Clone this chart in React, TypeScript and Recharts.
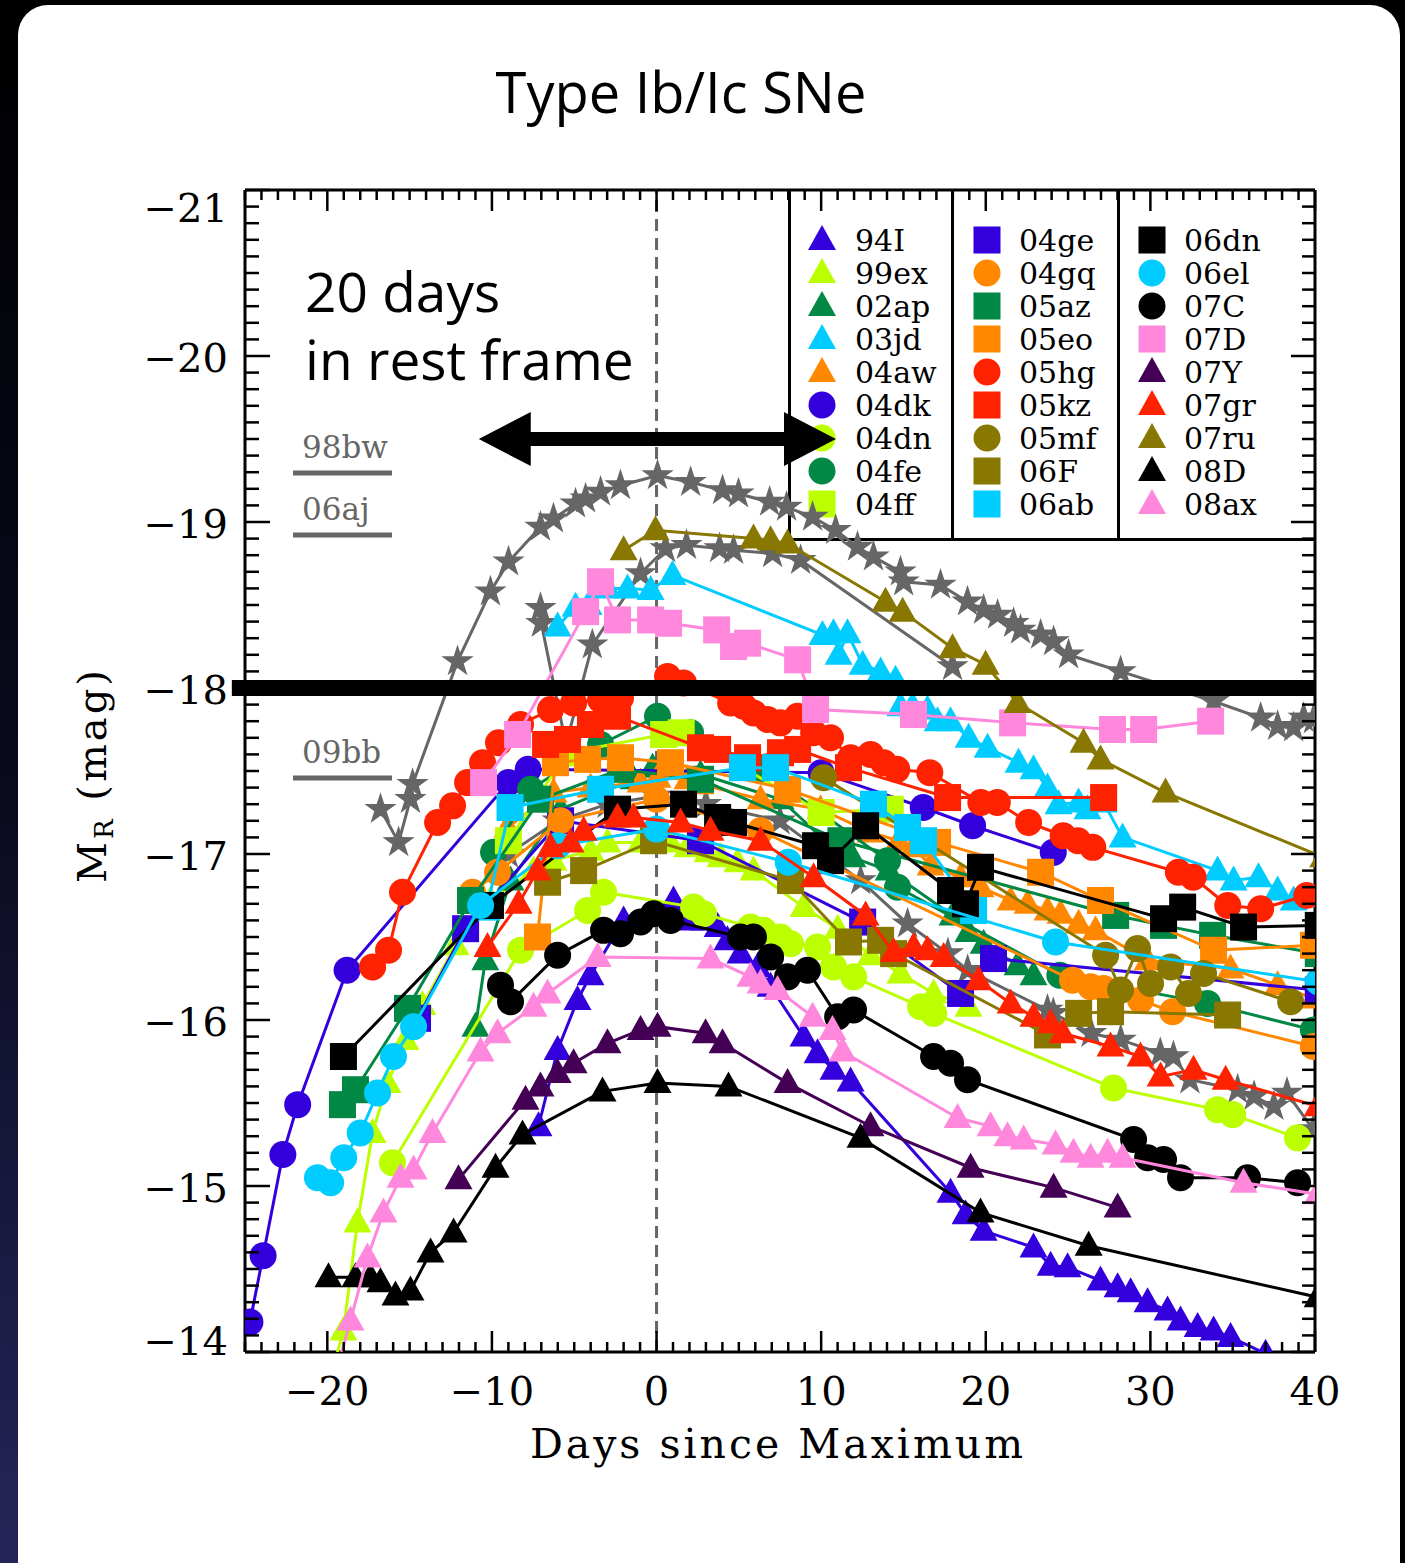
import React from "react";
import { ScatterChart, Scatter, XAxis, YAxis, ReferenceLine } from "recharts";

type Pt = [number, number]; // [days since max, M_R]

// gray comparison SNe (stars)
const sn98bw: Pt[] = [
  [-16.77, -17.27], [-15.67, -17.07], [-14.95, -17.33], [-14.82, -17.42], [-12.09, -18.16],
  [-10.09, -18.58], [-8.99, -18.76], [-7.05, -18.97], [-6.26, -19.02], [-4.92, -19.11],
  [-4.31, -19.14], [-3.4, -19.18], [-2.19, -19.22], [0.06, -19.28], [2.07, -19.24],
  [4.01, -19.19], [4.98, -19.17], [6.87, -19.12], [7.9, -19.09], [9.48, -19.03],
  [10.88, -18.95], [12.21, -18.85], [13.18, -18.79], [14.82, -18.7], [15.01, -18.64],
  [17.25, -18.62], [18.89, -18.52], [19.87, -18.47], [20.72, -18.44], [21.69, -18.39],
  [22.11, -18.35], [23.33, -18.32], [24.12, -18.28], [25.03, -18.2], [28.19, -18.1],
  [33.84, -17.92], [36.7, -17.82], [37.73, -17.77], [38.7, -17.76], [39.31, -17.82], [39.91, -17.81],
];
const sn06aj: Pt[] = [
  [-7.05, -18.48], [-7.0, -18.39], [-5.5, -17.66], [-3.9, -18.26], [-0.97, -18.69],
  [0.55, -18.84], [1.82, -18.86], [3.83, -18.84], [4.68, -18.83], [7.05, -18.81],
  [8.75, -18.77], [17.98, -18.13],
];
const sn09bb: Pt[] = [
  [-9.0, -17.0], [-6.0, -17.2], [-3.0, -17.3], [0.0, -17.35], [3.0, -17.3], [7.5, -17.2],
  [12.4, -16.84], [15.25, -16.58], [17.7, -16.4], [18.9, -16.3], [23.75, -16.06],
  [24.1, -16.04], [26.4, -15.92], [28.2, -15.88], [30.6, -15.8], [31.4, -15.78],
  [32.4, -15.64], [35.3, -15.58], [36.3, -15.54], [37.5, -15.48], [38.3, -15.56], [39.9, -15.34],
];

const sn94I: Pt[] = [
  [-7.17, -15.36], [-6.01, -15.82], [-4.8, -16.12], [-4.01, -16.27], [-2.0, -16.6],
  [1.03, -16.72], [2.07, -16.6], [2.86, -16.6], [3.71, -16.56], [4.31, -16.48],
  [5.1, -16.4], [6.14, -16.32], [6.93, -16.2], [8.93, -15.9], [9.78, -15.8],
  [10.75, -15.7], [11.79, -15.63], [17.86, -14.96], [18.77, -14.83], [19.87, -14.73],
  [22.9, -14.63], [23.94, -14.52], [24.97, -14.51], [26.97, -14.43], [28.01, -14.39],
  [28.8, -14.36], [29.83, -14.3], [31.04, -14.25], [31.83, -14.19], [32.87, -14.15],
  [33.84, -14.13], [34.87, -14.09], [37.0, -13.99],
];
const sn99ex: Pt[] = [
  [-19.8, -13.85], [-19.02, -14.13], [-18.17, -14.78], [-17.25, -15.32], [-16.34, -15.62],
  [-15.25, -15.88], [-14.22, -16.09], [-12.2, -16.45], [-10.09, -16.72], [-7.47, -16.9],
  [-6.26, -16.96], [-4.01, -17.02], [-2.98, -17.07], [-0.97, -17.07], [0.85, -17.07],
  [1.88, -17.04], [3.1, -17.01], [3.89, -16.98], [4.92, -16.95], [5.89, -16.9],
  [8.93, -16.68], [11.0, -16.55], [13.0, -16.39], [14.82, -16.28], [16.83, -16.16], [18.95, -16.08],
];
const sn02ap: Pt[] = [
  [-11.0, -15.96], [-10.4, -16.36], [-8.87, -16.84], [-5.83, -17.27], [-1.4, -17.45],
  [-0.24, -17.52], [2.67, -17.48], [7.53, -17.33], [11.0, -17.01], [11.9, -16.98],
  [14.1, -16.9], [17.98, -16.63], [18.95, -16.53], [19.87, -16.46], [21.93, -16.33], [22.9, -16.27],
];
const sn03jd: Pt[] = [
  [-6.01, -18.37], [-4.92, -18.49], [-4.13, -18.5], [-2.98, -18.6], [-1.76, -18.6],
  [-0.36, -18.59], [0.97, -18.68], [10.08, -18.32], [10.75, -18.33], [11.06, -18.2],
  [11.6, -18.33], [12.52, -18.14], [13.61, -18.1], [14.52, -18.05], [14.82, -17.89],
  [15.55, -17.89], [16.46, -17.87], [17.07, -17.8], [17.86, -17.8], [18.96, -17.7],
  [20.11, -17.64], [21.99, -17.55], [22.9, -17.51], [23.75, -17.4], [24.42, -17.3],
  [25.64, -17.31], [26.18, -17.27], [27.16, -17.31], [28.31, -17.1], [34.08, -16.9],
  [35.05, -16.84], [36.57, -16.86], [37.73, -16.78], [38.7, -16.72], [39.55, -16.74],
];
const sn04aw: Pt[] = [
  [-9.05, -17.16], [-6.26, -17.37], [-4.01, -17.4], [-0.97, -17.43], [0.06, -17.46],
  [1.88, -17.45], [2.67, -17.42], [6.32, -17.33], [9.96, -17.27], [13.0, -17.13],
  [14.7, -17.08], [15.61, -17.04], [16.65, -16.93], [18.47, -16.86], [19.68, -16.8],
  [21.51, -16.72], [22.54, -16.7], [23.75, -16.66], [24.54, -16.64], [25.64, -16.58],
  [26.67, -16.54], [29.83, -16.36], [34.87, -16.31], [37.73, -16.21], [39.91, -16.13],
];
const sn04dk: Pt[] = [
  [-24.7, -14.18], [-23.9, -14.58], [-22.7, -15.19], [-21.8, -15.49], [-18.8, -16.3],
  [-9.0, -17.43], [-7.8, -17.51], [10.0, -17.49], [16.2, -17.28], [19.2, -17.17], [24.1, -17.01],
];
const sn04dn: Pt[] = [
  [-16.04, -15.14], [-8.26, -16.42], [-4.19, -16.66], [-3.22, -16.77], [2.25, -16.68],
  [2.86, -16.64], [5.71, -16.56], [6.5, -16.54], [7.53, -16.5], [8.14, -16.46],
  [9.78, -16.44], [10.75, -16.32], [11.97, -16.26], [16.04, -16.08], [16.83, -16.04],
  [27.76, -15.59], [34.08, -15.46], [35.0, -15.43], [38.94, -15.29],
];
const sn04fe: Pt[] = [
  [-9.9, -17.01], [-7.65, -17.39], [-3.4, -17.66], [0.06, -17.83], [2.07, -17.73],
  [6.32, -17.51], [14.03, -16.96], [14.64, -16.8], [24.5, -16.27], [33.47, -16.1], [39.9, -15.94],
];
const sn04ff: Pt[] = [
  [-9.0, -17.08], [-5.41, -17.61], [0.43, -17.72], [1.5, -17.73], [10.0, -17.25], [14.2, -17.27],
];
const sn04ge: Pt[] = [
  [-14.52, -16.01], [-11.6, -16.55], [-5.83, -17.2], [2.67, -17.08], [12.52, -16.59],
  [18.47, -16.16], [20.47, -16.37], [40.2, -16.18],
];
const sn04gq: Pt[] = [
  [-11.18, -16.77], [-9.66, -16.89], [-5.83, -17.2], [0.0, -17.33], [6.32, -17.14],
  [25.27, -16.24], [26.37, -16.2], [27.16, -16.19], [29.4, -16.12], [31.35, -16.05], [39.9, -15.84],
];
const sn05az: Pt[] = [
  [-19.08, -15.49], [-18.29, -15.58], [-15.13, -16.07], [-11.3, -16.72], [-7.05, -17.33],
  [-2.19, -17.51], [2.67, -17.45], [11.2, -17.08], [27.89, -16.63], [30.8, -16.57],
  [33.78, -16.51], [40.2, -16.4],
];
const sn05eo: Pt[] = [
  [-7.23, -16.5], [-6.14, -17.55], [-4.19, -17.57], [-2.19, -17.58], [0.85, -17.55],
  [7.96, -17.39], [17.07, -17.07], [23.33, -16.89], [26.97, -16.72], [33.84, -16.42], [39.91, -16.45],
];
const sn05hg: Pt[] = [
  [-17.25, -16.32], [-16.28, -16.42], [-15.43, -16.77], [-13.3, -17.19], [-12.39, -17.29],
  [-11.48, -17.43], [-10.57, -17.55], [-9.6, -17.67], [-8.26, -17.78], [-6.44, -17.87],
  [-5.04, -17.91], [-3.4, -17.93], [-2.19, -17.94], [0.67, -18.07], [1.64, -18.03],
  [4.5, -17.91], [5.29, -17.89], [5.89, -17.85], [6.74, -17.81], [7.53, -17.79],
  [8.57, -17.83], [9.54, -17.73], [10.57, -17.7], [11.79, -17.58], [13.0, -17.6],
  [13.8, -17.55], [14.6, -17.51], [16.6, -17.49], [19.7, -17.31], [20.7, -17.31],
  [22.6, -17.19], [24.7, -17.11], [25.6, -17.08], [26.5, -17.04], [31.7, -16.89],
  [32.6, -16.86], [34.7, -16.69], [36.7, -16.67], [39.5, -16.75],
];
const sn05kz: Pt[] = [
  [-6.74, -17.66], [-5.41, -17.69], [-4.01, -17.78], [-2.37, -17.83], [2.67, -17.64],
  [3.71, -17.63], [5.53, -17.58], [7.53, -17.61], [8.57, -17.63], [11.66, -17.52],
  [17.68, -17.34], [27.16, -17.34],
];
const sn05mf: Pt[] = [
  [10.15, -17.46], [27.28, -16.39], [28.19, -16.18], [29.22, -16.43], [30.01, -16.22],
  [31.23, -16.32], [32.32, -16.16], [33.23, -16.28], [38.52, -16.11],
];
const sn06F: Pt[] = [
  [-6.62, -16.83], [-4.43, -16.9], [-0.18, -17.08], [8.14, -16.84], [11.66, -16.47],
  [13.61, -16.48], [14.4, -16.4], [23.75, -15.91], [25.64, -16.04], [27.58, -16.05], [34.69, -16.03],
];
const sn06ab: Pt[] = [
  [-10.3, -16.68], [-8.9, -17.28], [-3.4, -17.39], [5.22, -17.52], [7.23, -17.52],
  [13.18, -17.3], [15.25, -17.16], [16.22, -17.08], [19.26, -16.66],
];
const sn06dn: Pt[] = [
  [-19.02, -15.78], [-10.09, -16.69], [-2.37, -17.27], [1.64, -17.3], [3.71, -17.22],
  [4.68, -17.19], [9.66, -17.05], [10.57, -16.96], [12.7, -17.17], [17.86, -16.78],
  [18.77, -16.7], [19.68, -16.92], [30.8, -16.61], [31.96, -16.68], [35.66, -16.56], [40.2, -16.57],
];
const sn06el: Pt[] = [
  [-20.6, -15.05], [-19.8, -15.02], [-19.0, -15.17], [-18.0, -15.32], [-16.95, -15.56],
  [-15.98, -15.78], [-14.76, -15.96], [-10.69, -16.69], [-6.0, -17.05], [0.0, -17.15],
  [8.0, -16.95], [24.24, -16.47], [40.2, -16.23],
];
const sn07C: Pt[] = [
  [-9.48, -16.21], [-8.87, -16.11], [-6.01, -16.39], [-3.22, -16.54], [-2.19, -16.52],
  [-0.97, -16.59], [-0.18, -16.64], [0.85, -16.6], [5.1, -16.5], [5.89, -16.5],
  [6.93, -16.38], [7.96, -16.26], [9.17, -16.3], [11.0, -16.02], [11.97, -16.06],
  [16.83, -15.78], [17.86, -15.74], [18.89, -15.64], [28.98, -15.28], [29.83, -15.17],
  [30.8, -15.16], [31.83, -15.05], [35.9, -15.05], [38.94, -15.02],
];
const sn07D: Pt[] = [
  [-10.51, -17.43], [-8.44, -17.72], [-4.31, -18.46], [-3.4, -18.64], [-2.37, -18.41],
  [-0.36, -18.41], [0.73, -18.39], [3.65, -18.35], [4.68, -18.25], [5.53, -18.27],
  [8.57, -18.17], [9.66, -17.87], [15.61, -17.84], [21.63, -17.79], [27.7, -17.75],
  [29.59, -17.75], [33.66, -17.8],
];
const sn07Y: Pt[] = [
  [-12.03, -15.04], [-7.96, -15.52], [-7.05, -15.6], [-6.01, -15.68], [-5.04, -15.74],
  [-2.98, -15.86], [-0.97, -15.94], [0.06, -15.96], [2.98, -15.92], [4.01, -15.86],
  [7.96, -15.62], [13.0, -15.36], [19.08, -15.11], [24.12, -14.99], [28.01, -14.87],
];
const sn07gr: Pt[] = [
  [-10.27, -16.44], [-8.38, -16.7], [-7.23, -16.9], [-6.44, -17.04], [-5.22, -17.07],
  [-4.43, -17.14], [-2.37, -17.22], [-1.4, -17.22], [1.46, -17.19], [3.28, -17.14],
  [6.32, -17.08], [9.54, -16.86], [12.7, -16.63], [14.4, -16.41], [15.61, -16.44],
  [16.46, -16.42], [17.44, -16.38], [19.56, -16.24], [21.51, -16.1], [22.9, -16.02],
  [23.94, -15.98], [24.67, -15.92], [27.58, -15.84], [29.4, -15.78], [30.62, -15.66],
  [32.62, -15.7], [34.57, -15.64], [40.16, -15.48],
];
const sn07ru: Pt[] = [
  [-2.0, -18.83], [-0.06, -18.95], [5.89, -18.9], [6.93, -18.89], [7.96, -18.87],
  [13.91, -18.52], [14.95, -18.46], [17.98, -18.24], [19.99, -18.14], [21.93, -17.91],
  [25.94, -17.67], [26.97, -17.57], [30.92, -17.37], [40.5, -16.98],
];
const sn08D: Pt[] = [
  [-19.93, -14.45], [-18.29, -14.45], [-17.38, -14.45], [-16.77, -14.42], [-15.86, -14.34],
  [-14.95, -14.37], [-13.73, -14.6], [-12.33, -14.72], [-9.78, -15.11], [-8.14, -15.31],
  [-3.28, -15.57], [0.06, -15.62], [4.37, -15.6], [12.39, -15.29], [19.68, -14.84],
  [26.25, -14.64], [40.16, -14.33],
];
const sn08ax: Pt[] = [
  [-19.4, -13.9], [-18.59, -14.19], [-17.56, -14.57], [-16.59, -14.84], [-15.55, -15.05],
  [-14.76, -15.1], [-13.61, -15.32], [-10.69, -15.81], [-9.66, -15.92], [-7.47, -16.08],
  [-6.62, -16.16], [-3.58, -16.38], [3.28, -16.37], [5.71, -16.26], [6.32, -16.22],
  [7.35, -16.18], [9.48, -16.02], [10.69, -15.94], [11.3, -15.81], [18.29, -15.41],
  [20.29, -15.36], [21.32, -15.3], [22.3, -15.28], [24.24, -15.25], [25.33, -15.2],
  [26.37, -15.17], [27.4, -15.2], [28.31, -15.17], [35.66, -15.02], [40.16, -14.95],
];

type Shape = "triangle" | "circle" | "square" | "star";
type Series = { name: string; color: string; shape: Shape; data: Pt[] };

const SERIES: Series[] = [
  { name: "98bw", color: "#666666", shape: "star", data: sn98bw },
  { name: "06aj", color: "#666666", shape: "star", data: sn06aj },
  { name: "09bb", color: "#666666", shape: "star", data: sn09bb },
  { name: "94I", color: "#3300DD", shape: "triangle", data: sn94I },
  { name: "99ex", color: "#BBFF00", shape: "triangle", data: sn99ex },
  { name: "02ap", color: "#008844", shape: "triangle", data: sn02ap },
  { name: "03jd", color: "#00CCFF", shape: "triangle", data: sn03jd },
  { name: "04aw", color: "#FF8800", shape: "triangle", data: sn04aw },
  { name: "04dk", color: "#3300DD", shape: "circle", data: sn04dk },
  { name: "04dn", color: "#BBFF00", shape: "circle", data: sn04dn },
  { name: "04fe", color: "#008844", shape: "circle", data: sn04fe },
  { name: "04ff", color: "#BBFF00", shape: "square", data: sn04ff },
  { name: "04ge", color: "#3300DD", shape: "square", data: sn04ge },
  { name: "04gq", color: "#FF8800", shape: "circle", data: sn04gq },
  { name: "05az", color: "#008844", shape: "square", data: sn05az },
  { name: "05eo", color: "#FF8800", shape: "square", data: sn05eo },
  { name: "05hg", color: "#FF2200", shape: "circle", data: sn05hg },
  { name: "05kz", color: "#FF2200", shape: "square", data: sn05kz },
  { name: "05mf", color: "#887700", shape: "circle", data: sn05mf },
  { name: "06F", color: "#887700", shape: "square", data: sn06F },
  { name: "06ab", color: "#00CCFF", shape: "square", data: sn06ab },
  { name: "06dn", color: "#000000", shape: "square", data: sn06dn },
  { name: "06el", color: "#00CCFF", shape: "circle", data: sn06el },
  { name: "07C", color: "#000000", shape: "circle", data: sn07C },
  { name: "07D", color: "#FF88DD", shape: "square", data: sn07D },
  { name: "07Y", color: "#440055", shape: "triangle", data: sn07Y },
  { name: "07gr", color: "#FF2200", shape: "triangle", data: sn07gr },
  { name: "07ru", color: "#887700", shape: "triangle", data: sn07ru },
  { name: "08D", color: "#000000", shape: "triangle", data: sn08D },
  { name: "08ax", color: "#FF88DD", shape: "triangle", data: sn08ax },
];

const LEGEND_COLUMNS = [
  ["94I", "99ex", "02ap", "03jd", "04aw", "04dk", "04dn", "04fe", "04ff"],
  ["04ge", "04gq", "05az", "05eo", "05hg", "05kz", "05mf", "06F", "06ab"],
  ["06dn", "06el", "07C", "07D", "07Y", "07gr", "07ru", "08D", "08ax"],
];
const GRAY_KEYS = ["98bw", "06aj", "09bb"];

const DAY_TICKS = Array.from({ length: 66 }, (_, i) => i - 25);
const MAG_TICKS = Array.from({ length: 71 }, (_, i) => -21 + i / 10);
const THRESHOLD_MAG = -18;
const ARROW_DAYS: [number, number] = [-10.8, 10.9];
const ARROW_MAG = -19.5;

const SERIF = "DejaVu Serif";
const fmt = (v: number) => (v < 0 ? "\u2212" + Math.abs(v) : String(v));
const isMajorMag = (v: number) => Math.abs(v - Math.round(v)) < 1e-6;

function Marker({ cx, cy, shape, color }: { cx: number; cy: number; shape: Shape; color: string }) {
  if (shape === "triangle")
    return <polygon points={`${cx},${cy - 15} ${cx + 14},${cy + 10} ${cx - 14},${cy + 10}`} fill={color} />;
  if (shape === "circle") return <circle cx={cx} cy={cy} r={13.5} fill={color} />;
  if (shape === "square") return <rect x={cx - 13.5} y={cy - 13.5} width={27} height={27} fill={color} />;
  const pts: string[] = [];
  for (let i = 0; i < 10; i++) {
    const r = i % 2 === 0 ? 17 : 6.5;
    const a = -Math.PI / 2 + (i * Math.PI) / 5;
    pts.push(`${cx + r * Math.cos(a)},${cy + r * Math.sin(a)}`);
  }
  return <polygon points={pts.join(" ")} fill={color} />;
}

function BottomTick(p: any) {
  const v = p.payload.value;
  const major = v % 10 === 0;
  return (
    <g>
      <line x1={p.x} x2={p.x} y1={p.y} y2={p.y - (major ? 21 : 10)} stroke="#000" strokeWidth={2.5} />
      {major && (
        <text x={p.x} y={p.y + 53} textAnchor="middle" fontFamily={SERIF} fontSize={40} fill="#000">
          {fmt(v)}
        </text>
      )}
    </g>
  );
}

function TopTick(p: any) {
  const major = p.payload.value % 10 === 0;
  return <line x1={p.x} x2={p.x} y1={p.y} y2={p.y + (major ? 21 : 10)} stroke="#000" strokeWidth={2.5} />;
}

function LeftTick(p: any) {
  const v = p.payload.value;
  const major = isMajorMag(v);
  const r = Math.round(v);
  const dy = r === -21 ? 32 : r === -14 ? 3 : 16;
  return (
    <g>
      <line x1={p.x} x2={p.x + (major ? 25 : 14)} y1={p.y} y2={p.y} stroke="#000" strokeWidth={2.5} />
      {major && (
        <text x={p.x - 17} y={p.y + dy} textAnchor="end" fontFamily={SERIF} fontSize={40} fill="#000">
          {fmt(r)}
        </text>
      )}
    </g>
  );
}

function RightTick(p: any) {
  const major = isMajorMag(p.payload.value);
  return <line x1={p.x} x2={p.x - (major ? 24 : 13)} y1={p.y} y2={p.y} stroke="#000" strokeWidth={2.5} />;
}

function ArrowShape(p: any) {
  const { x1, x2, y1 } = p;
  const L = 52;
  const H = 27;
  return (
    <g>
      <line x1={x1 + L - 2} x2={x2 - L + 2} y1={y1} y2={y1} stroke="#000" strokeWidth={14} />
      <polygon points={`${x1},${y1} ${x1 + L},${y1 - H} ${x1 + L},${y1 + H}`} fill="#000" />
      <polygon points={`${x2},${y1} ${x2 - L},${y1 - H} ${x2 - L},${y1 + H}`} fill="#000" />
    </g>
  );
}

const byName: Record<string, Series> = Object.fromEntries(SERIES.map((s) => [s.name, s]));

function Annotations() {
  const colMarkerX = [822, 987, 1152];
  const colTextX = [855, 1019, 1184];
  const grayY = [458, 520, 763];
  return (
    <svg width={1405} height={1563} style={{ position: "absolute", left: 0, top: 0 }}>
      <text x={681} y={113} textAnchor="middle" fontFamily="Open Sans" fontSize={56} fill="#000">
        Type Ib/Ic SNe
      </text>
      <text fontFamily="Open Sans" fontSize={55} fill="#000">
        <tspan x={305} y={312}>20 days</tspan>
        <tspan x={305} y={380}>in rest frame</tspan>
      </text>
      {GRAY_KEYS.map((k, i) => (
        <g key={k}>
          <text x={302} y={grayY[i]} fontFamily={SERIF} fontSize={31} fill="#666">{k}</text>
          <rect x={293} y={grayY[i] + 12.5} width={99} height={5} fill="#666" />
        </g>
      ))}
      <text x={778} y={1458} textAnchor="middle" fontFamily={SERIF} fontSize={41} letterSpacing={3} fill="#000">
        Days since Maximum
      </text>
      <text transform="translate(106,775) rotate(-90)" textAnchor="middle" fontFamily={SERIF} fontSize={40} letterSpacing={3} fill="#000">
        M<tspan fontSize={26} dy={7}>R</tspan>
        <tspan dy={-7}> (mag)</tspan>
      </text>
      {/* legend box */}
      <line x1={789.5} x2={789.5} y1={190} y2={541} stroke="#000" strokeWidth={3} />
      <line x1={788} x2={1315} y1={539.5} y2={539.5} stroke="#000" strokeWidth={3} />
      <line x1={952.5} x2={952.5} y1={190} y2={541} stroke="#000" strokeWidth={3} />
      <line x1={1118.5} x2={1118.5} y1={190} y2={541} stroke="#000" strokeWidth={3} />
      {LEGEND_COLUMNS.map((col, ci) =>
        col.map((name, ri) => {
          const s = byName[name];
          const cy = 240 + ri * 33;
          return (
            <g key={name}>
              <Marker cx={colMarkerX[ci]} cy={cy} shape={s.shape} color={s.color} />
              <text x={colTextX[ci]} y={cy + 11} fontFamily={SERIF} fontSize={30} fill="#000">
                {name}
              </text>
            </g>
          );
        })
      )}
    </svg>
  );
}

export default function App() {
  return (
    <div
      style={{
        position: "absolute",
        left: 0,
        top: 0,
        width: 1405,
        height: 1563,
        overflow: "hidden",
        background: "radial-gradient(ellipse at 0% 100%, #25255a 0%, #0a0a1e 35%, #000 70%)",
      }}
    >
      <div
        style={{
          position: "absolute",
          left: 18,
          top: 5,
          width: 1382,
          height: 1620,
          background: "#fff",
          borderRadius: 30,
        }}
      />
      <Annotations />
      <div style={{ position: "absolute", left: 0, top: 0 }}>
        <ScatterChart width={1405} height={1563} margin={{ top: 189, right: 89, bottom: 61, left: 0 }}>
          <XAxis
            xAxisId="bottom"
            type="number"
            dataKey="x"
            domain={[-25, 40]}
            allowDataOverflow
            ticks={DAY_TICKS}
            interval={0}
            height={150}
            tickSize={0}
            tickMargin={0}
            tick={BottomTick}
            axisLine={{ stroke: "#000", strokeWidth: 3 }}
          />
          <XAxis
            xAxisId="top"
            orientation="top"
            type="number"
            dataKey="x"
            domain={[-25, 40]}
            allowDataOverflow
            ticks={DAY_TICKS}
            interval={0}
            height={1}
            tickSize={0}
            tickMargin={0}
            tick={TopTick}
            axisLine={{ stroke: "#000", strokeWidth: 3 }}
          />
          <YAxis
            yAxisId="left"
            type="number"
            dataKey="y"
            domain={[-21, -14]}
            reversed
            allowDataOverflow
            ticks={MAG_TICKS}
            interval={0}
            width={245}
            tickSize={0}
            tickMargin={0}
            tick={LeftTick}
            axisLine={{ stroke: "#000", strokeWidth: 3 }}
          />
          <YAxis
            yAxisId="right"
            orientation="right"
            type="number"
            dataKey="y"
            domain={[-21, -14]}
            reversed
            allowDataOverflow
            ticks={MAG_TICKS}
            interval={0}
            width={1}
            tickSize={0}
            tickMargin={0}
            tick={RightTick}
            axisLine={{ stroke: "#000", strokeWidth: 3 }}
          />
          <ReferenceLine
            xAxisId="bottom"
            yAxisId="left"
            x={0}
            stroke="#666"
            strokeWidth={3}
            strokeDasharray="12 7"
            zIndex={50}
          />
          {SERIES.map((s) => (
            <Scatter
              key={s.name}
              name={s.name}
              xAxisId="bottom"
              yAxisId="left"
              data={s.data.map(([x, y]) => ({ x, y }))}
              fill={s.color}
              line={{ strokeWidth: 3 }}
              isAnimationActive={false}
              shape={(p: any) => <Marker cx={p.cx} cy={p.cy} shape={s.shape} color={s.color} />}
            />
          ))}
          <ReferenceLine
            xAxisId="bottom"
            yAxisId="left"
            segment={[
              { x: -25.8, y: THRESHOLD_MAG },
              { x: 40, y: THRESHOLD_MAG },
            ]}
            ifOverflow="visible"
            stroke="#000"
            strokeWidth={16}
            zIndex={1000}
          />
          <ReferenceLine
            xAxisId="bottom"
            yAxisId="left"
            segment={[
              { x: ARROW_DAYS[0], y: ARROW_MAG },
              { x: ARROW_DAYS[1], y: ARROW_MAG },
            ]}
            shape={ArrowShape}
            zIndex={1000}
          />
        </ScatterChart>
      </div>
    </div>
  );
}
